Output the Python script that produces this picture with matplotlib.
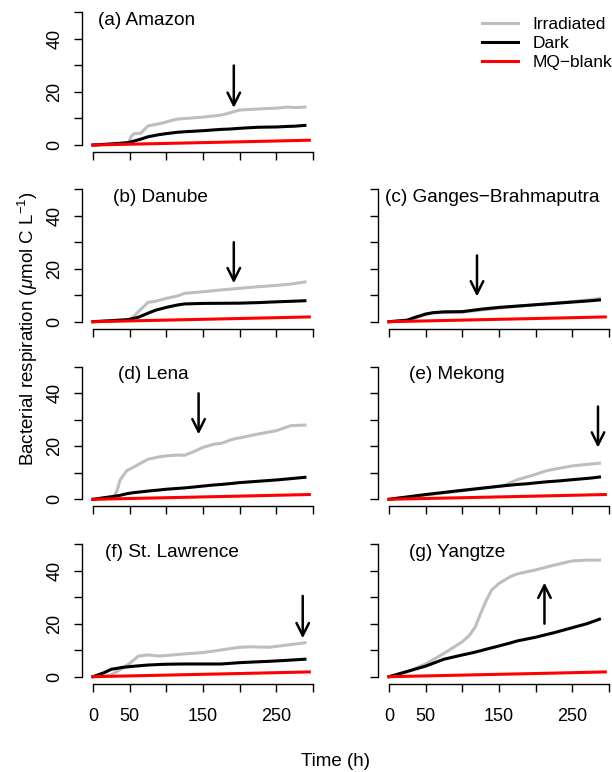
import matplotlib.pyplot as plt
from matplotlib.lines import Line2D

plt.rcParams['font.family'] = ['Liberation Sans', 'DejaVu Sans']
plt.rcParams['mathtext.fontset'] = 'custom'
plt.rcParams['mathtext.rm'] = 'Liberation Sans'
plt.rcParams['mathtext.it'] = 'Liberation Sans:italic'

# ---- data (time in h, respiration in umol C/L) ----
amazon_t = [0, 25, 48, 52, 56, 65, 75, 90, 100, 115, 125, 150, 175, 185, 200, 225, 250, 265, 275, 289]
amazon_irr = [0, 0.3, 0.7, 3.2, 4.3, 4.4, 7.2, 8.0, 8.7, 9.8, 10.0, 10.5, 11.3, 12.0, 13.2, 13.6, 13.9, 14.3, 14.1, 14.3]
amazon_dark = [0, 0.4, 0.9, 1.2, 1.5, 2.2, 3.1, 3.9, 4.3, 4.8, 5.0, 5.4, 5.9, 6.0, 6.3, 6.7, 6.8, 7.0, 7.1, 7.4]

danube_t = [0, 25, 48, 55, 62, 75, 85, 100, 115, 125, 150, 175, 200, 225, 250, 270, 289]
danube_irr = [0, 0.3, 0.6, 1.9, 3.8, 7.3, 7.7, 8.8, 9.7, 10.7, 11.3, 12.0, 12.6, 13.2, 13.7, 14.2, 15.0]
danube_dark = [0, 0.4, 0.8, 1.2, 1.7, 3.2, 4.3, 5.4, 6.3, 6.7, 6.9, 6.95, 7.0, 7.2, 7.5, 7.7, 7.9]

ganges_t = [0, 25, 35, 50, 60, 75, 100, 125, 150, 175, 200, 225, 250, 275, 287]
ganges_irr = [0, 0.5, 1.3, 2.7, 3.3, 3.6, 3.6, 4.4, 5.1, 5.8, 6.4, 7.0, 7.6, 8.3, 8.8]
ganges_dark = [0, 0.6, 1.6, 2.9, 3.4, 3.7, 3.8, 4.7, 5.4, 5.9, 6.4, 6.9, 7.4, 7.9, 8.2]

lena_t = [0, 15, 28, 33, 37, 46, 55, 75, 90, 100, 115, 125, 140, 150, 165, 175, 190, 200, 225, 250, 270, 289]
lena_irr = [0, 0.2, 0.5, 3.5, 7.3, 10.8, 12.1, 15.1, 16.0, 16.4, 16.7, 16.6, 18.3, 19.6, 20.8, 21.1, 22.6, 23.2, 24.6, 25.9, 27.8, 28.0]
lena_dark = [0, 0.6, 1.1, 1.3, 1.5, 2.1, 2.5, 3.1, 3.5, 3.8, 4.1, 4.3, 4.7, 5.0, 5.4, 5.6, 6.0, 6.3, 6.8, 7.3, 7.8, 8.3]

mekong_t = [0, 50, 100, 150, 160, 175, 190, 200, 215, 230, 250, 275, 287]
mekong_irr = [0, 1.6, 3.2, 4.9, 5.6, 7.4, 8.6, 9.4, 10.8, 11.6, 12.6, 13.3, 13.6]
mekong_dark = [0, 1.8, 3.4, 4.9, 5.2, 5.6, 5.9, 6.2, 6.6, 6.9, 7.4, 8.0, 8.4]

stlaw_t = [0, 15, 25, 40, 50, 62, 75, 90, 100, 125, 150, 175, 200, 215, 240, 260, 289]
stlaw_irr = [0, 0.3, 0.7, 3.2, 5.0, 7.8, 8.2, 7.8, 8.0, 8.6, 9.1, 10.1, 11.1, 11.3, 11.1, 11.8, 12.8]
stlaw_dark = [0, 1.5, 2.8, 3.5, 3.8, 4.1, 4.4, 4.6, 4.7, 4.8, 4.8, 4.8, 5.3, 5.5, 5.8, 6.1, 6.6]

yangtze_t = [0, 25, 50, 75, 100, 110, 118, 125, 133, 140, 150, 165, 175, 200, 225, 250, 270, 287]
yangtze_irr = [0, 1.8, 4.8, 8.8, 13.2, 15.7, 19.0, 23.9, 29.0, 32.7, 35.2, 37.7, 38.8, 40.3, 42.1, 43.7, 44.0, 44.0]
yangtze_dark = [0, 2.0, 4.0, 6.6, 8.2, 8.8, 9.3, 9.8, 10.4, 10.9, 11.6, 12.7, 13.5, 14.9, 16.6, 18.5, 20.0, 21.7]

blank_t = [0, 100, 200, 295]
blank = [0, 0.6, 1.2, 1.8]

labels = ["(a) Amazon", "(b) Danube", "(c) Ganges\u2212Brahmaputra", "(d) Lena",
          "(e) Mekong", "(f) St. Lawrence", "(g) Yangtze"]
label_t = [7, 27, -6, 34, 27, 16, 27]
arrow_t = [192, 192, 120, 144, 285, 286, 212]
arrow_from = [30, 30, 25, 40, 35, 30.5, 20]
arrow_to = [14, 14.5, 9.5, 24.5, 19.5, 14.5, 35.5]

times = [amazon_t, danube_t, ganges_t, lena_t, mekong_t, stlaw_t, yangtze_t]
irradiated = [amazon_irr, danube_irr, ganges_irr, lena_irr, mekong_irr, stlaw_irr, yangtze_irr]
dark = [amazon_dark, danube_dark, ganges_dark, lena_dark, mekong_dark, stlaw_dark, yangtze_dark]
# (row, col) of each panel; top right cell holds the legend
cells = [(0, 0), (1, 0), (1, 1), (2, 0), (2, 1), (3, 0), (3, 1)]

GREY, RED = '#BEBEBE', '#FF0000'
LW = 2.2

# ---- layout (pixels) ----
W, H = 612, 772
fig = plt.figure(figsize=(W / 100, H / 100), dpi=100)
XLIM = (-15, 310)
YLIM = (-2.6, 52.6)
px_t, px_v = 0.7333, 2.65
col_left = [82, 378]
row_zero = [145, 321.7, 499.3, 676.7]
ax_w = (XLIM[1] - XLIM[0]) * px_t
ax_h = (YLIM[1] - YLIM[0]) * px_v


def make_axes(row, col):
    bottom_px = row_zero[row] - YLIM[0] * px_v
    ax = fig.add_axes([col_left[col] / W, 1 - bottom_px / H, ax_w / W, ax_h / H])
    ax.set_xlim(*XLIM)
    ax.set_ylim(*YLIM)
    for s in ['top', 'right']:
        ax.spines[s].set_visible(False)
    ax.spines['left'].set_bounds(0, 50)
    ax.spines['bottom'].set_bounds(0, 300)
    for s in ['left', 'bottom']:
        ax.spines[s].set_linewidth(1.0)
    ax.set_xticks(range(0, 301, 50))
    ax.set_yticks(range(0, 51, 10))
    ax.tick_params(length=5.5, width=1.0, labelsize=13)
    ax.tick_params(axis='y', pad=8, labelrotation=90)
    ax.tick_params(axis='x', pad=12)
    if row == 3:
        ax.set_xticklabels(['0', '50', '', '150', '', '250', ''])
    else:
        ax.set_xticklabels([])
    if col == 0:
        ax.set_yticklabels(['0', '', '20', '', '40', ''])
        for lab in ax.get_yticklabels():
            lab.set_va('center')
    else:
        ax.set_yticklabels([])
    return ax


for i, (row, col) in enumerate(cells):
    ax = make_axes(row, col)
    ax.plot(times[i], irradiated[i], color=GREY, lw=LW)
    ax.plot(times[i], dark[i], color='black', lw=LW)
    ax.plot(blank_t, blank, color=RED, lw=LW)
    ax.annotate('', xy=(arrow_t[i], arrow_to[i]), xytext=(arrow_t[i], arrow_from[i]),
                arrowprops=dict(arrowstyle='->,head_length=0.9,head_width=0.45',
                                lw=1.8, color='black', shrinkA=0, shrinkB=0))
    ax.text(label_t[i], 47, labels[i], fontsize=13.7, ha='left', va='center')

handles = [Line2D([], [], color=GREY, lw=LW), Line2D([], [], color='black', lw=LW),
           Line2D([], [], color=RED, lw=LW)]
fig.legend(handles, ['Irradiated', 'Dark', 'MQ\u2212blank'], loc='upper left',
           bbox_to_anchor=(482 / W, 1 - 17 / H), frameon=False, fontsize=12.5,
           handlelength=2.1, handletextpad=0.8, labelspacing=0.22,
           borderpad=0, borderaxespad=0)

fig.text(28 / W, 1 - 329 / H, r'Bacterial respiration ($\mu$mol C L$^{-1}$)',
         rotation=90, ha='center', va='center', fontsize=13.5)
fig.text(335 / W, 1 - 762 / H, 'Time (h)', ha='center', va='center', fontsize=13.5)

fig.savefig('out.png', dpi=100)
